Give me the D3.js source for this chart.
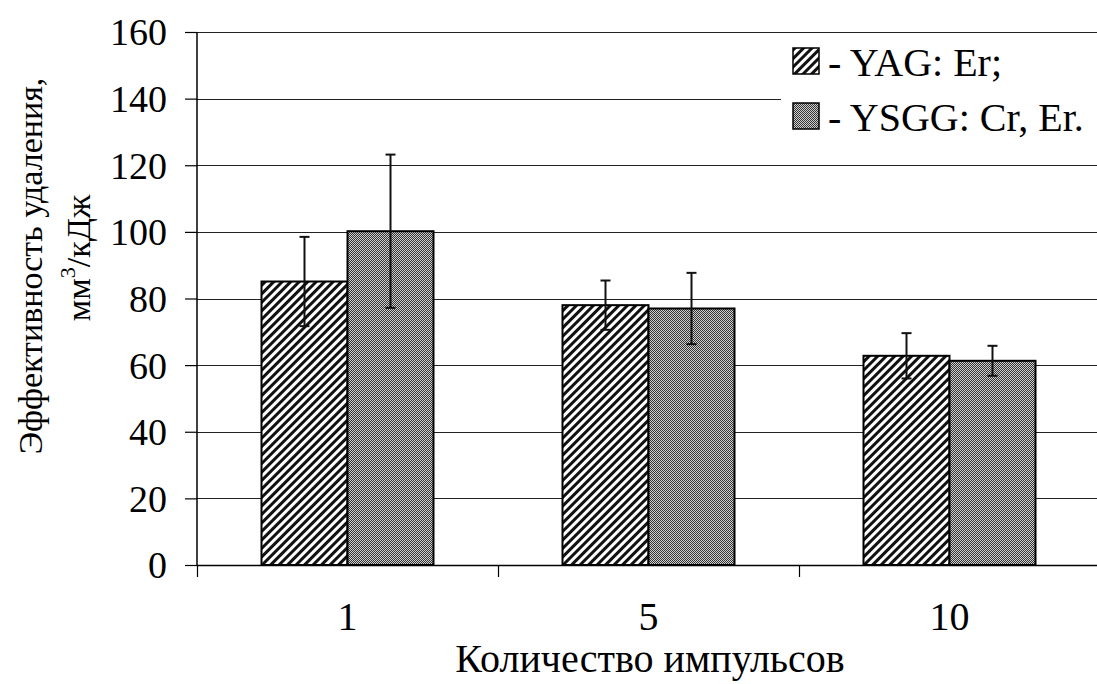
<!DOCTYPE html>
<html>
<head>
<meta charset="utf-8">
<script src="https://cdn.jsdelivr.net/npm/d3@7"></script>
<style>
  html, body { margin: 0; padding: 0; background: #fff; }
  svg { display: block; }
</style>
</head>
<body>
<svg id="chart" width="1097" height="684"></svg>
<script>
// Removal efficiency by pulse count for two laser types
const categories = ["1", "5", "10"];
const seriesNames = ["- YAG: Er;", "- YSGG: Cr, Er."];
const yagValues = [85.1, 78.0, 62.8];
const yagErrors = [13.4, 7.4, 6.8];
const ysggValues = [100.2, 77.0, 61.3];
const ysggErrors = [23.0, 10.7, 4.5];
const yTicks = [0, 20, 40, 60, 80, 100, 120, 140, 160];

const series = [
  { name: seriesNames[0], values: yagValues, errors: yagErrors, fill: "url(#hatch)" },
  { name: seriesNames[1], values: ysggValues, errors: ysggErrors, fill: "url(#dots)" }
];

const FONT = "Liberation Serif";
const FS = 40;
const svg = d3.select("#chart");
const plotLeft = 197, plotRight = 1100, plotTop = 32, plotBottom = 565;

// Fill patterns
const defs = svg.append("defs");
const hatch = defs.append("pattern")
  .attr("id", "hatch").attr("patternUnits", "userSpaceOnUse")
  .attr("width", 6).attr("height", 6)
  .attr("patternTransform", "rotate(45)");
hatch.append("rect").attr("width", 6).attr("height", 6).attr("fill", "#fff");
hatch.append("rect").attr("x", 0).attr("width", 3).attr("height", 6).attr("fill", "#111");

const dots = defs.append("pattern")
  .attr("id", "dots").attr("patternUnits", "userSpaceOnUse")
  .attr("width", 2).attr("height", 2);
dots.append("rect").attr("width", 2).attr("height", 2).attr("fill", "#d0d0d0");
dots.append("rect").attr("width", 1).attr("height", 1).attr("fill", "#333");
dots.append("rect").attr("x", 1).attr("y", 1).attr("width", 1).attr("height", 1).attr("fill", "#333");

// Scales
const y = d3.scaleLinear().domain([0, 160]).range([plotBottom, plotTop]);
const x0 = d3.scaleBand().domain(categories).range([plotLeft, plotRight]).padding(0);
const x1 = d3.scaleBand().domain(seriesNames).range([0, x0.bandwidth()])
  .paddingInner(0).paddingOuter(0.75);

// Gridlines
svg.append("g").selectAll("line").data(yTicks.filter(d => d > 0)).join("line")
  .attr("x1", plotLeft).attr("x2", plotRight)
  .attr("y1", d => Math.round(y(d)) + 0.5).attr("y2", d => Math.round(y(d)) + 0.5)
  .attr("stroke", "#222").attr("stroke-width", 1.2);

// Bars
const groups = svg.append("g").selectAll("g").data(categories).join("g")
  .attr("transform", d => `translate(${x0(d)},0)`);

series.forEach(s => {
  groups.append("rect")
    .attr("x", () => x1(s.name))
    .attr("y", (d, i) => y(s.values[i]))
    .attr("width", x1.bandwidth())
    .attr("height", (d, i) => plotBottom - y(s.values[i]))
    .attr("fill", s.fill)
    .attr("stroke", "#000").attr("stroke-width", 2);
});

// Error bars
series.forEach(s => {
  const eb = groups.append("g").attr("stroke", "#111").attr("stroke-width", 2);
  const cx = x1(s.name) + x1.bandwidth() / 2;
  eb.append("line")
    .attr("x1", cx).attr("x2", cx)
    .attr("y1", (d, i) => y(s.values[i] + s.errors[i]))
    .attr("y2", (d, i) => y(s.values[i] - s.errors[i]));
  [1, -1].forEach(sign => {
    eb.append("line")
      .attr("x1", cx - 5).attr("x2", cx + 5)
      .attr("y1", (d, i) => y(s.values[i] + sign * s.errors[i]))
      .attr("y2", (d, i) => y(s.values[i] + sign * s.errors[i]));
  });
});

// Y axis
const yAxis = svg.append("g").attr("transform", `translate(${plotLeft},0)`)
  .call(d3.axisLeft(y).tickValues(yTicks).tickSize(12).tickPadding(18));
yAxis.attr("font-family", FONT).attr("font-size", 38);
yAxis.select(".domain").attr("stroke", "#000").attr("stroke-width", 1.5)
  .attr("d", `M0,${plotTop}V${plotBottom}`);
yAxis.selectAll(".tick line").attr("stroke", "#000").attr("stroke-width", 1.2);
yAxis.selectAll("text").attr("fill", "#000").attr("dy", "0.34em");

// X axis: boundary ticks between categories, labels centred
svg.append("line").attr("x1", plotLeft).attr("x2", plotRight)
  .attr("y1", plotBottom + 0.5).attr("y2", plotBottom + 0.5)
  .attr("stroke", "#000").attr("stroke-width", 1.5);
const bounds = categories.map(c => x0(c)).concat([x0(categories[categories.length - 1]) + x0.bandwidth()]);
svg.append("g").selectAll("line").data(bounds).join("line")
  .attr("x1", d => Math.round(d) + 0.5).attr("x2", d => Math.round(d) + 0.5)
  .attr("y1", plotBottom).attr("y2", plotBottom + 12)
  .attr("stroke", "#000").attr("stroke-width", 1.2);
svg.append("g").selectAll("text").data(categories).join("text")
  .attr("x", d => x0(d) + x0.bandwidth() / 2)
  .attr("y", 630)
  .attr("text-anchor", "middle")
  .attr("font-family", FONT)
  .attr("font-size", FS)
  .text(d => d);

// Axis titles
svg.append("text").attr("x", 650).attr("y", 672).attr("text-anchor", "middle")
  .attr("font-family", FONT).attr("font-size", FS).text("Количество импульсов");

svg.append("text").attr("transform", "translate(42,266) rotate(-90)")
  .attr("text-anchor", "middle").attr("font-family", FONT).attr("font-size", 34)
  .text("Эффективность удаления,");
const yt2 = svg.append("text").attr("transform", "translate(90,258) rotate(-90)")
  .attr("text-anchor", "middle").attr("font-family", FONT).attr("font-size", 34);
yt2.append("tspan").text("мм");
yt2.append("tspan").attr("font-size", 22).attr("dy", -15).text("3");
yt2.append("tspan").attr("dy", 15).text("/кДж");

// Legend
const legend = svg.append("g");
legend.append("rect").attr("x", 781).attr("y", 36).attr("width", 330).attr("height", 112).attr("fill", "#fff");
const items = legend.selectAll("g").data(series).join("g")
  .attr("transform", (d, i) => `translate(793,${48 + i * 55})`);
items.append("rect").attr("width", 26).attr("height", 26)
  .attr("fill", d => d.fill).attr("stroke", "#000").attr("stroke-width", 1.5);
items.append("text").attr("x", 35).attr("y", 28).attr("font-family", FONT).attr("font-size", FS).text(d => d.name);
</script>
</body>
</html>
